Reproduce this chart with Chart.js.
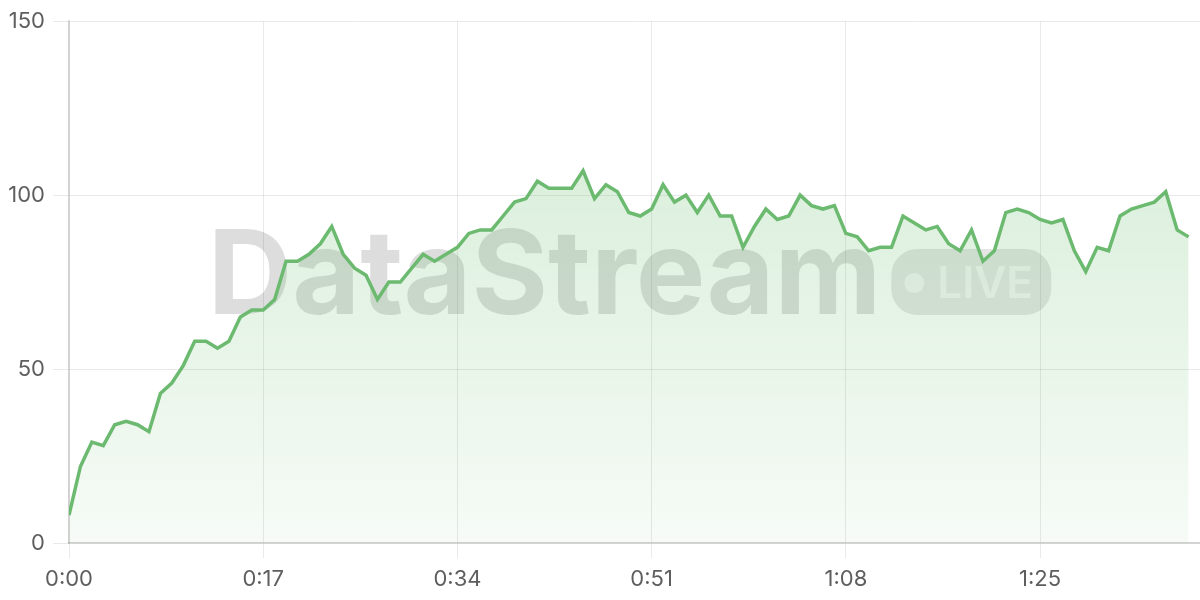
<!DOCTYPE html>
<html>
<head>
<meta charset="utf-8">
<script src="https://cdn.jsdelivr.net/npm/chart.js@4.4.1/dist/chart.umd.min.js"></script>
<style>
  html, body { margin: 0; padding: 0; background: #fff; }
  #wrap { width: 1200px; height: 600px; position: relative; }
</style>
</head>
<body>
<div id="wrap"><canvas id="live-chart"></canvas></div>
<script>
// valores por segundo (lectura del stream)
const values = [
  8, 22, 29, 28, 34, 35, 34, 32, 43, 46,
  51, 58, 58, 56, 58, 65, 67, 67, 70, 81,
  81, 83, 86, 91, 83, 79, 77, 70, 75, 75,
  79, 83, 81, 83, 85, 89, 90, 90, 94, 98,
  99, 104, 102, 102, 102, 107, 99, 103, 101, 95,
  94, 96, 103, 98, 100, 95, 100, 94, 94, 85,
  91, 96, 93, 94, 100, 97, 96, 97, 89, 88,
  84, 85, 85, 94, 92, 90, 91, 86, 84, 90,
  81, 84, 95, 96, 95, 93, 92, 93, 84, 78,
  85, 84, 94, 96, 97, 98, 101, 90, 88
];
const windowSeconds = 99;
const tickStepSeconds = 17;
const yTicks = [0, 50, 100, 150];

const watermarkText = 'DataStream';
const badgeText = 'LIVE';

const green = 'rgb(108, 186, 112)';
const tickFont = { family: 'Inter', size: 22 };

function fmtTime(sec) {
    const m = Math.floor(sec / 60);
    const s = Math.round(sec % 60);
    return m + ':' + String(s).padStart(2, '0');
}

const watermark = {
    id: 'watermark',
    beforeDatasetsDraw(chart) {
        const { ctx, chartArea } = chart;
        const cx = (chartArea.left + chartArea.right) / 2 - 5;
        const cy = (chartArea.top + chartArea.bottom) / 2;
        ctx.save();
        ctx.font = '700 117px Inter';
        const tw = ctx.measureText(watermarkText).width;
        const pillW = 160, pillH = 66, gap = 10;
        const x0 = cx - (tw + gap + pillW) / 2;
        ctx.fillStyle = 'rgba(0,0,0,0.135)';
        ctx.textBaseline = 'alphabetic';
        ctx.fillText(watermarkText, x0, cy + 32);

        // pastilla LIVE
        const px = x0 + tw + gap, py = cy - pillH / 2;
        ctx.beginPath();
        ctx.roundRect(px, py, pillW, pillH, 26);
        ctx.fillStyle = 'rgba(0,0,0,0.1)';
        ctx.fill();
        ctx.fillStyle = 'rgba(255,255,255,0.55)';
        ctx.beginPath();
        ctx.arc(px + 23, cy + 1, 10, 0, Math.PI * 2);
        ctx.fill();
        ctx.font = '600 44px Inter';
        ctx.fillText(badgeText, px + 46, cy + 16);
        ctx.restore();
    }
};

const ctx = document.getElementById('live-chart').getContext('2d');
new Chart(ctx, {
    type: 'line',
    data: {
        datasets: [{
            label: 'Stream',
            data: values.map((v, i) => ({ x: i, y: v })),
            borderColor: green,
            borderWidth: 3.5,
            pointRadius: 0,
            tension: 0,
            fill: 'origin',
            backgroundColor: (c) => {
                const area = c.chart.chartArea;
                if (!area) return 'rgba(102,187,106,0.15)';
                const g = c.chart.ctx.createLinearGradient(0, area.top, 0, area.bottom);
                g.addColorStop(0, 'rgba(102,187,106,0.30)');
                g.addColorStop(1, 'rgba(102,187,106,0.06)');
                return g;
            }
        }]
    },
    options: {
        responsive: true,
        maintainAspectRatio: false,
        animation: false,
        layout: { padding: { top: 19, right: 0, left: 0, bottom: 0 } },
        plugins: { legend: { display: false }, tooltip: { enabled: false } },
        scales: {
            x: {
                type: 'linear',
                min: 0,
                max: windowSeconds,
                afterFit: (s) => { s.height = 57; },
                grid: { color: 'rgba(0,0,0,0.085)', tickLength: 15 },
                border: { color: 'rgba(0,0,0,0.18)', width: 1.5 },
                ticks: {
                    stepSize: tickStepSeconds,
                    includeBounds: false,
                    maxRotation: 0,
                    padding: 8,
                    color: '#5e5e5e',
                    font: tickFont,
                    callback: (v) => fmtTime(v)
                }
            },
            y: {
                min: yTicks[0],
                max: yTicks[yTicks.length - 1],
                afterFit: (s) => { s.width = 69; },
                afterBuildTicks: (s) => { s.ticks = yTicks.map(v => ({ value: v })); },
                grid: { color: 'rgba(0,0,0,0.085)', tickLength: 16 },
                border: { color: 'rgba(0,0,0,0.18)', width: 1.5 },
                ticks: { padding: 8, color: '#5e5e5e', font: tickFont }
            }
        }
    },
    plugins: [watermark]
});
</script>
</body>
</html>
